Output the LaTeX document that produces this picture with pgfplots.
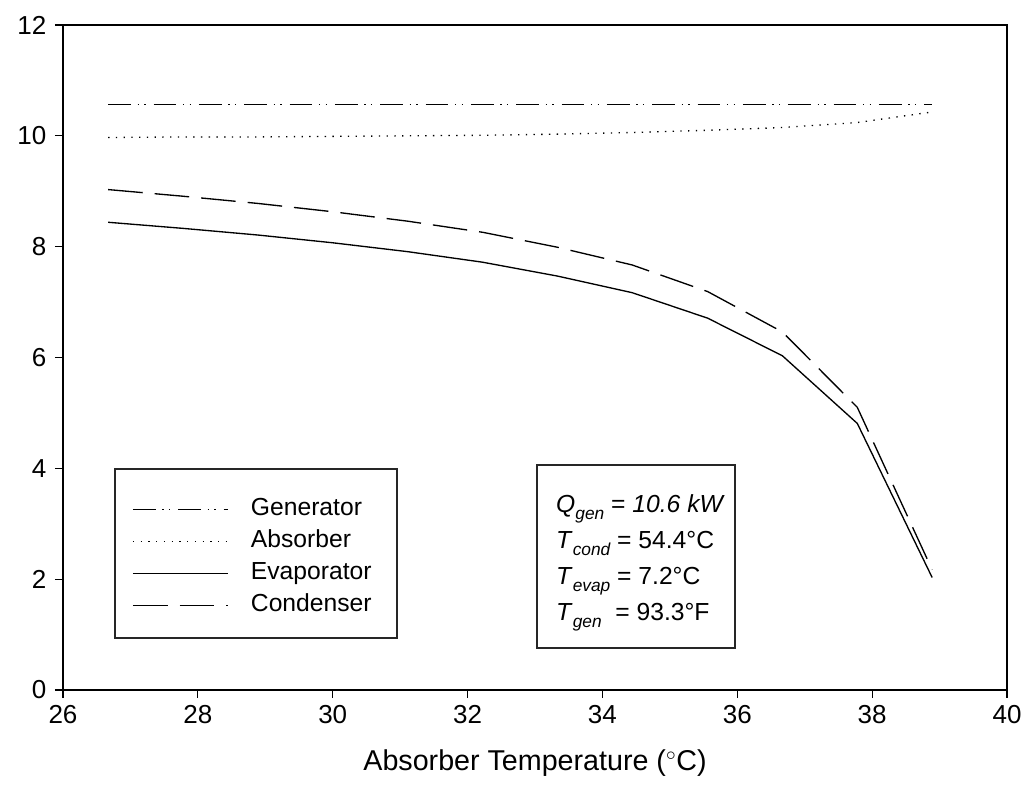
\documentclass[border=0pt]{standalone}
\usepackage{pgfplots}
\pgfplotsset{compat=1.18}
\usepackage{fontspec}
\setmainfont{Liberation Sans}
\newcommand{\sub}[1]{\raisebox{-0.55ex}{\fontsize{13}{13}\selectfont\itshape #1}}
\newcommand{\tlfont}{\fontsize{19.5}{22}\selectfont}
\begin{document}
\begin{tikzpicture}
\begin{axis}[name=ax,
  width=708pt, height=498.75pt, scale only axis,
  xmin=26, xmax=40, ymin=0, ymax=12,
  xtick={26,28,...,40}, ytick={0,2,...,12},
  tick align=outside, xtick pos=left, ytick pos=left,
  major tick length=6pt,
  tick style={black, line width=0.9pt},
  axis line style={line width=1.1pt},
  /pgf/number format/assume math mode=true,
  xticklabel={\mbox{\tlfont\pgfmathprintnumber{\tick}}},
  yticklabel={\mbox{\tlfont\pgfmathprintnumber{\tick}}},
  xticklabel style={yshift=-2pt},
  yticklabel style={xshift=-3pt},
  xlabel={Absorber Temperature ($^\circ$C)},
  xlabel style={font=\fontsize{21.5}{25}\selectfont, yshift=-12.5pt},
  legend image code/.code={\draw[#1] (0pt,0pt) -- (71pt,0pt);},
  legend cell align=left,
  legend style={draw=none, fill=none, at={(axis description cs:0.0731,0.2887)}, anchor=north west,
    inner sep=0pt, row sep=7pt, column sep=17pt,
    font=\fontsize{18.5}{22}\selectfont,
    nodes={inner sep=0pt, text height=13pt, text depth=4pt}},
  every axis plot/.append style={line width=1pt, black},
]
\addplot[dash pattern=on 17pt off 5pt on 1pt off 4pt on 1pt off 6pt] coordinates {
(26.67,10.56) (27.78,10.56) (28.89,10.56) (30,10.56) (31.11,10.56) (32.22,10.56)
(33.33,10.56) (34.44,10.56) (35.56,10.56) (36.67,10.56) (37.78,10.56) (38.89,10.56)};
\addlegendentry{Generator}
\addplot[dash pattern=on 1pt off 4.8pt] coordinates {
(26.67,9.97) (27.78,9.98) (28.89,9.98) (30,9.99) (31.11,10.00) (32.22,10.01)
(33.33,10.03) (34.44,10.06) (35.56,10.10) (36.67,10.15) (37.78,10.24) (38.89,10.43)};
\addlegendentry{Absorber}
\addplot[solid] coordinates {
(26.67,8.44) (27.78,8.33) (28.89,8.21) (30,8.07) (31.11,7.91) (32.22,7.72)
(33.33,7.47) (34.44,7.17) (35.56,6.71) (36.67,6.03) (37.78,4.81) (38.89,2.03)};
\addlegendentry{Evaporator}
\addplot[dash pattern=on 26pt off 9pt] coordinates {
(26.67,9.03) (27.78,8.91) (28.89,8.78) (30,8.63) (31.11,8.46) (32.22,8.26)
(33.33,7.99) (34.44,7.67) (35.56,7.19) (36.67,6.46) (37.78,5.10) (38.89,2.17)};
\addlegendentry{Condenser}
% legend frame
\draw[black!85, line width=1pt] (axis description cs:0.0551,0.0782) rectangle ++(211.5pt,126.75pt);
% text box
\draw[black!85, line width=1pt] (axis description cs:0.5021,0.0632) rectangle ++(148.5pt,137.25pt);
\node[anchor=north west, align=left, inner sep=0pt, font=\fontsize{18.5}{27}\selectfont]
  at (axis description cs:0.5222,0.2948) {%
  \textit{Q}\sub{gen} = \textit{10.6 kW}\\
  \textit{T}\sub{cond} = 54.4°C\\
  \textit{T}\sub{evap} = 7.2°C\\
  \textit{T}\sub{gen}\ \ = 93.3°F};
\end{axis}
\pgfresetboundingbox
\path ([shift={(-47.25pt,-81.75pt)}]ax.south west) rectangle ([shift={(13.5pt,18.75pt)}]ax.north east);
\end{tikzpicture}
\end{document}
